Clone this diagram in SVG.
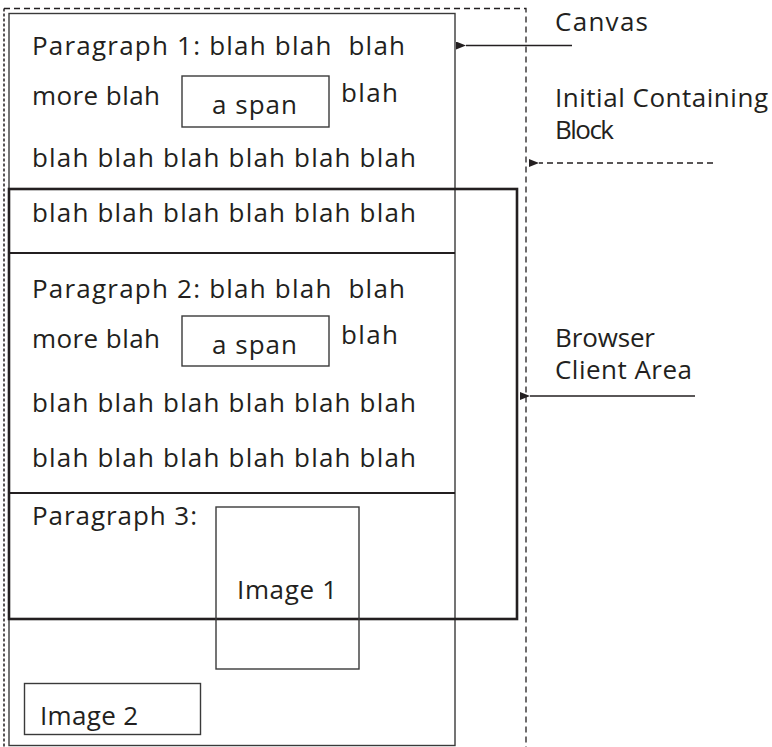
<svg xmlns="http://www.w3.org/2000/svg" width="772" height="747" viewBox="0 0 772 747">
<style>
text{font-family:"Open Sans","Noto Sans","DejaVu Sans",sans-serif;font-size:26px;fill:#231f20;white-space:pre}
.box{fill:none;stroke:#3a3a3a;stroke-width:1.4}
.thick{fill:none;stroke:#231f20;stroke-width:2.6}
.sep{fill:none;stroke:#231f20;stroke-width:2}
.dash{fill:none;stroke:#231f20;stroke-width:1.3;stroke-dasharray:6 4}
.dashl{fill:none;stroke:#231f20;stroke-width:1.5;stroke-dasharray:3 2}
.conn{fill:none;stroke:#231f20;stroke-width:1.4}
</style>
<defs>
<marker id="ah" viewBox="0 0 10 8" refX="0" refY="4" markerWidth="10" markerHeight="8" markerUnits="userSpaceOnUse" orient="auto-start-reverse">
<path d="M0,4 L10,0 L10,8 Z" fill="#231f20"/>
</marker>
</defs>
<rect width="772" height="747" fill="#fff"/>

<g id="icb">
<path class="dash" d="M4,8.5 H526 V750"/>
<path class="dashl" d="M4,8.5 V750"/>
</g>

<g id="canvas">
<rect class="box" x="9" y="13.5" width="446" height="732"/>
</g>

<g id="browser-client-area">
<rect class="thick" x="9" y="189" width="508" height="430"/>
</g>

<g id="paragraph1">
<text x="32" y="55" textLength="373" xml:space="preserve">Paragraph 1: blah blah  blah</text>
<text x="32" y="105" textLength="128">more blah</text>
<text x="341" y="102" textLength="57">blah</text>
<text x="32" y="167" textLength="384">blah blah blah blah blah blah</text>
<text x="32" y="222" textLength="384">blah blah blah blah blah blah</text>
</g>
<g id="span1">
<rect class="box" x="182" y="76" width="147" height="51"/>
<text x="212" y="114" textLength="85">a span</text>
</g>

<g id="paragraph2">
<path class="sep" d="M9,253 H455"/>
<text x="32" y="298" textLength="373" xml:space="preserve">Paragraph 2: blah blah  blah</text>
<text x="32" y="348" textLength="128">more blah</text>
<text x="341" y="344" textLength="57">blah</text>
<text x="32" y="412" textLength="384">blah blah blah blah blah blah</text>
<text x="32" y="467" textLength="384">blah blah blah blah blah blah</text>
</g>
<g id="span2">
<rect class="box" x="182" y="316" width="147" height="50"/>
<text x="212" y="354" textLength="85">a span</text>
</g>

<g id="paragraph3">
<path class="sep" d="M9,493 H455"/>
<text x="32" y="525" textLength="165">Paragraph 3:</text>
</g>

<g id="image1">
<rect class="box" x="216" y="507" width="143" height="162"/>
<text x="237" y="599" textLength="100">Image 1</text>
</g>

<g id="image2">
<rect class="box" x="24.5" y="683.5" width="176" height="51"/>
<text x="40" y="725" textLength="98">Image 2</text>
</g>

<g id="labels">
<text x="555" y="31" textLength="93">Canvas</text>
<text x="555" y="107" textLength="213">Initial Containing</text>
<text x="555" y="139" textLength="59">Block</text>
<text x="555" y="347" textLength="100">Browser</text>
<text x="555" y="379" textLength="137">Client Area</text>
</g>

<g id="connectors">
<path class="conn" d="M572,45.5 H466" marker-end="url(#ah)"/>
<path class="conn" d="M713,163 H539" stroke-dasharray="6 4" marker-end="url(#ah)"/>
<path class="conn" d="M695,396 H530" marker-end="url(#ah)"/>
</g>
</svg>
